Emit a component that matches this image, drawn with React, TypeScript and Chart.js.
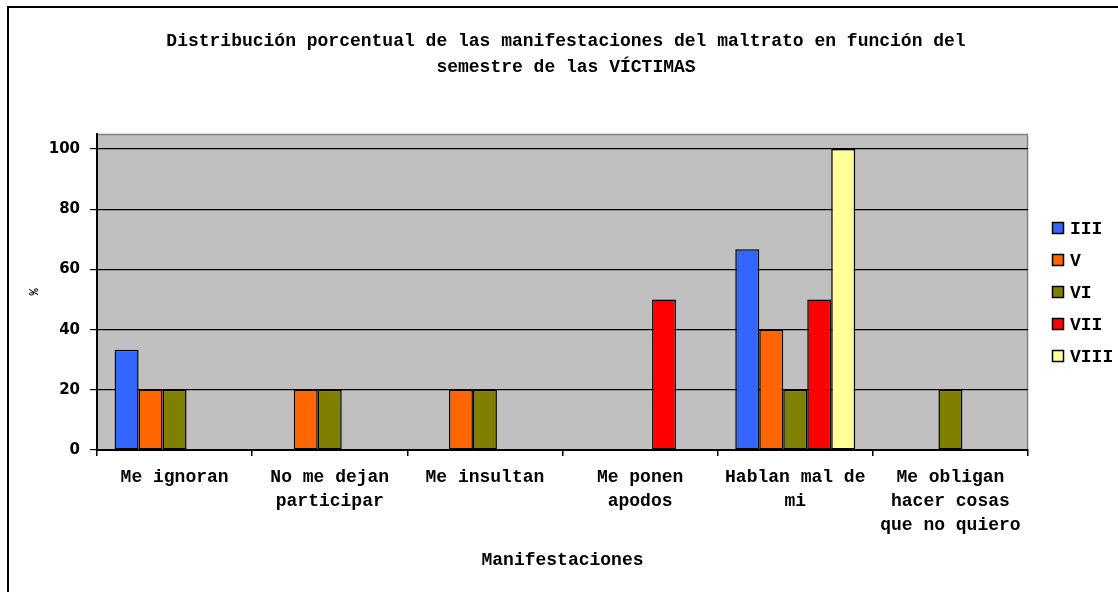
import { useEffect, useRef } from 'react';
import { Chart, registerables } from 'chart.js';

Chart.register(...registerables);

const categories: string[][] = [
  ['Me ignoran'],
  ['No me dejan', 'participar'],
  ['Me insultan'],
  ['Me ponen', 'apodos'],
  ['Hablan mal de', 'mi'],
  ['Me obligan', 'hacer cosas', 'que no quiero'],
];
const seriesNames = ['III', 'V', 'VI', 'VII', 'VIII'];
const seriesColors = ['#3366FF', '#FF6600', '#808000', '#FF0000', '#FFFF99'];
const valuesIII = [33.33, null, null, null, 66.67, null];
const valuesV = [20, 20, 20, null, 40, null];
const valuesVI = [20, 20, 20, null, 20, 20];
const valuesVII = [null, null, null, 50, 50, null];
const valuesVIII = [null, null, null, null, 100, null];
const yTicks = [0, 20, 40, 60, 80, 100];
const yMax = 105;
const titleLines = [
  'Distribución porcentual de las manifestaciones del maltrato en función del',
  'semestre de las VÍCTIMAS',
];
const xTitle = 'Manifestaciones';
const yTitle = '%';

const MONO = '"Liberation Mono", "Courier New", monospace';

const bgPlugin = {
  id: 'bgFrame',
  beforeDraw(chart: any) {
    const { ctx, chartArea: a } = chart;
    ctx.save();
    ctx.fillStyle = '#ffffff';
    ctx.fillRect(0, 0, chart.width, chart.height);
    ctx.fillStyle = '#000000';
    ctx.fillRect(7, 6, 2, chart.height);
    ctx.fillRect(7, 6, chart.width, 2);
    ctx.fillStyle = '#C0C0C0';
    ctx.fillRect(a.left, a.top, a.right - a.left, a.bottom - a.top);
    ctx.strokeStyle = '#808080';
    ctx.lineWidth = 1.5;
    ctx.beginPath();
    ctx.moveTo(a.left, a.top + 0.5);
    ctx.lineTo(a.right - 0.5, a.top + 0.5);
    ctx.lineTo(a.right - 0.5, a.bottom);
    ctx.stroke();
    ctx.restore();
  },
};

const legendPlugin = {
  id: 'sideLegend',
  afterDraw(chart: any) {
    const { ctx, chartArea: a } = chart;
    const ds = chart.data.datasets;
    const mid = (a.top + a.bottom) / 2;
    const step = 32;
    const x = a.right + 24;
    ctx.save();
    ctx.font = `bold 18px ${MONO}`;
    ctx.textBaseline = 'middle';
    ctx.textAlign = 'left';
    ds.forEach((d: any, i: number) => {
      const y = Math.round(mid + (i - (ds.length - 1) / 2) * step);
      ctx.fillStyle = d.backgroundColor;
      ctx.fillRect(x, y - 6, 12, 12);
      ctx.strokeStyle = '#000';
      ctx.lineWidth = 1.5;
      ctx.strokeRect(x + 0.5, y - 5.5, 11, 11);
      ctx.fillStyle = '#000';
      ctx.fillText(d.label, x + 18, y + 1);
    });
    ctx.restore();
  },
};

export default function App() {
  const ref = useRef<HTMLCanvasElement | null>(null);
  useEffect(() => {
    if (!ref.current) return;
    const allValues = [valuesIII, valuesV, valuesVI, valuesVII, valuesVIII];
    const chart = new Chart(ref.current, {
      type: 'bar',
      data: {
        labels: categories,
        datasets: seriesNames.map((name, i) => ({
          label: name,
          data: allValues[i],
          backgroundColor: seriesColors[i],
          borderColor: '#000000',
          borderWidth: 1.5,
          borderSkipped: false,
          barPercentage: 1,
          categoryPercentage: 0.773,
        })),
      },
      options: {
        animation: false,
        responsive: true,
        maintainAspectRatio: false,
        layout: { padding: { left: 14, right: 0, top: 0, bottom: 0 } },
        plugins: {
          legend: { display: false },
          tooltip: { enabled: false },
          title: {
            display: true,
            text: titleLines,
            color: '#000',
            font: { family: MONO, size: 18, weight: 'bold', lineHeight: '26px' },
            padding: { top: 28, bottom: 54 },
          },
        },
        scales: {
          x: {
            afterFit(s: any) { s.height = 142; },
            grid: { offset: true, drawOnChartArea: false, drawTicks: true, tickLength: 6, color: '#000', lineWidth: 1.5 },
            border: { color: '#000', width: 2 },
            ticks: {
              autoSkip: false, maxRotation: 0, minRotation: 0, padding: 9, color: '#000',
              font: { family: MONO, size: 18, weight: 'bold', lineHeight: '24px' },
            },
            title: {
              display: true, text: xTitle, color: '#000',
              font: { family: MONO, size: 18, weight: 'bold', lineHeight: 1.2 },
              padding: { top: 0, bottom: 21 },
            },
          },
          y: {
            min: 0,
            max: yMax,
            afterBuildTicks(s: any) { s.ticks = yTicks.map((v) => ({ value: v })); },
            afterFit(s: any) { s.width = 83; },
            grid: { color: '#000', lineWidth: 1.2, drawTicks: true, tickLength: 7 },
            border: { color: '#000', width: 2 },
            ticks: {
              padding: 10, color: '#000',
              font: { family: '"DejaVu Sans", Verdana, sans-serif', size: 15, weight: 'bold' },
            },
            title: {
              display: true, text: yTitle, color: '#000',
              font: { family: MONO, size: 12, weight: 'bold', lineHeight: 1.2 },
              padding: { top: 14, bottom: 0 },
            },
          },
          yR: {
            type: 'linear',
            position: 'right',
            display: true,
            afterFit(s: any) { s.width = 90; },
            grid: { display: false, drawOnChartArea: false },
            ticks: { display: false },
            border: { display: false },
          },
        },
      } as any,
      plugins: [bgPlugin, legendPlugin],
    });
    return () => chart.destroy();
  }, []);
  return (
    <div style={{ position: 'fixed', left: 0, top: 0, width: 1118, height: 592 }}>
      <canvas ref={ref} />
    </div>
  );
}
